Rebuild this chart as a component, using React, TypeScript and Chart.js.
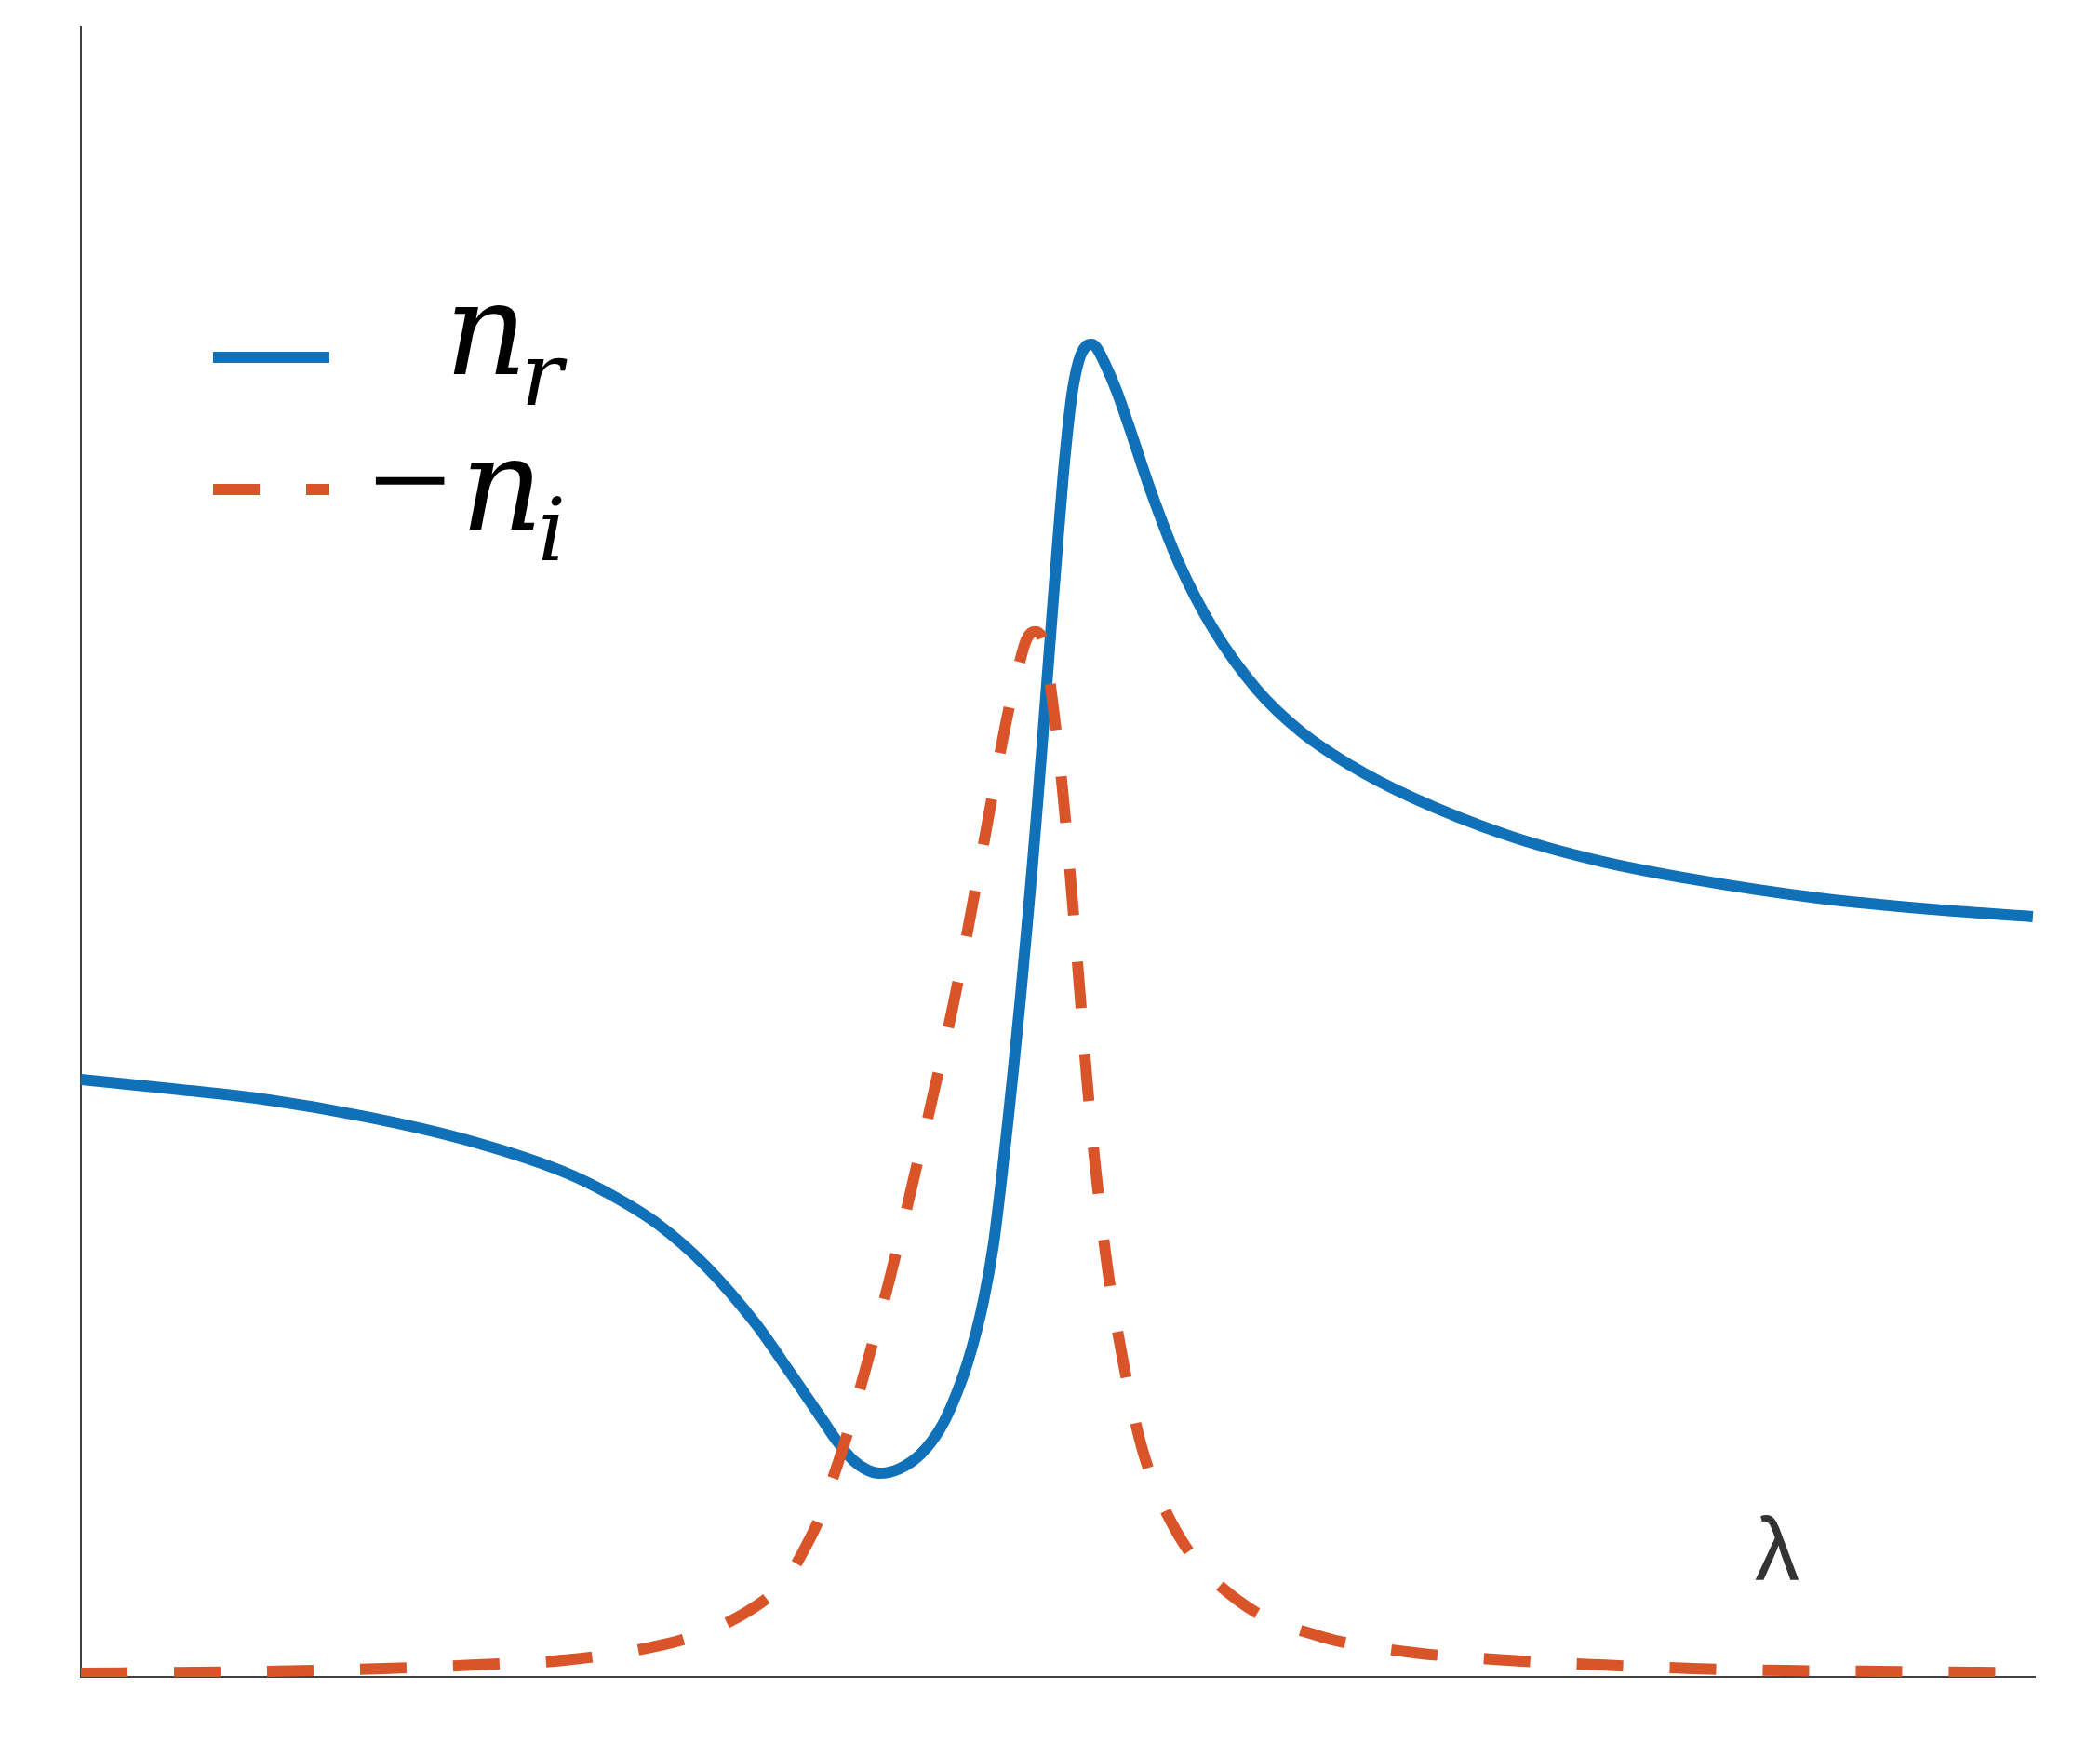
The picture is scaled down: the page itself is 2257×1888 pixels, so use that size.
import React, { useEffect, useRef } from "react";
import { Chart, registerables } from "chart.js";

Chart.register(...registerables);

// wavelength axis (arbitrary units) and the two curves
const nrX = [0, 4.67, 9.62, 14.62, 19.57, 24.57, 27.05, 29.57, 32.05, 34.52, 36.33, 37.9, 38.71, 39.52, 40.29, 40.86, 41.9, 43.0, 43.95, 44.57, 45.38, 46.19, 46.71, 47.14, 47.44, 47.76, 48.08, 48.4, 48.71, 48.95, 49.19, 49.43, 49.67, 49.99, 50.27, 50.48, 50.71, 50.9, 51.14, 51.43, 51.71, 51.95, 52.43, 53.0, 53.62, 54.76, 56.19, 57.95, 60.19, 62.43, 64.95, 68.14, 72.95, 77.71, 82.52, 88.9, 95.29, 99.9];
const nrY = [36.21, 35.65, 34.97, 33.95, 32.6, 30.68, 29.27, 27.41, 24.82, 21.43, 18.39, 15.68, 14.27, 13.14, 12.52, 12.35, 12.63, 13.54, 15.0, 16.47, 19.06, 22.79, 26.28, 30.46, 33.67, 37.28, 41.12, 45.23, 49.41, 52.85, 56.46, 60.18, 63.9, 68.75, 72.81, 75.35, 77.67, 78.96, 80.03, 80.65, 80.77, 80.6, 79.53, 77.95, 75.86, 71.86, 67.51, 63.51, 59.84, 57.3, 55.27, 53.3, 51.04, 49.46, 48.34, 47.21, 46.47, 46.08];

const niX = [0, 5.9, 10.67, 15.48, 20.24, 24.95, 29.67, 32.05, 34.1, 35.62, 36.33, 37.14, 37.76, 38.38, 39.19, 40.14, 41.43, 42.57, 43.62, 44.67, 45.62, 46.43, 47.29, 48.0, 48.38, 48.81, 49.19, 49.76, 50.29, 50.71, 51.1, 51.48, 51.95, 52.52, 53.24, 54.29, 56.1, 59.24, 63.52, 68.24, 73.0, 77.76, 82.52, 87.29, 92.05, 96.81, 99.9];
const niY = [0.23, 0.28, 0.37, 0.51, 0.73, 1.04, 1.92, 2.76, 3.95, 5.3, 6.32, 8.01, 9.53, 11.68, 14.61, 18.61, 24.31, 29.95, 35.31, 40.89, 46.76, 52.0, 57.53, 61.3, 62.85, 63.35, 63.0, 58.77, 53.13, 47.49, 41.85, 36.27, 30.57, 24.93, 19.74, 13.93, 8.74, 4.62, 2.43, 1.47, 1.02, 0.73, 0.51, 0.39, 0.34, 0.28, 0.25];

const seriesLabels = ["n_r", "-n_i"];
const axisLabel = "λ";

const BLUE = "#1071B8";
const ORANGE = "#D95428";
const AXIS = "#404040";

const legendPlugin = {
  id: "mathLegend",
  afterDraw(chart: any) {
    const ctx = chart.ctx as CanvasRenderingContext2D;
    ctx.save();
    // legend line samples
    ctx.lineCap = "butt";
    ctx.lineWidth = 12;
    ctx.strokeStyle = BLUE;
    ctx.beginPath();
    ctx.moveTo(229, 384);
    ctx.lineTo(354, 384);
    ctx.stroke();
    ctx.strokeStyle = ORANGE;
    ctx.setLineDash([50, 50]);
    ctx.beginPath();
    ctx.moveTo(229, 526);
    ctx.lineTo(354, 526);
    ctx.stroke();
    ctx.setLineDash([]);

    ctx.fillStyle = "#000";
    ctx.textAlign = "left";
    ctx.textBaseline = "alphabetic";
    const big = "italic 138px 'DejaVu Serif', serif";
    const small = "italic 94px 'DejaVu Serif', serif";
    // n_r
    ctx.font = big;
    ctx.fillText("n", 478, 402);
    ctx.font = small;
    ctx.fillText("r", 560, 435);
    // −n_i
    ctx.font = "158px 'Liberation Serif', serif";
    ctx.fillText("\u2212", 396, 569);
    ctx.font = big;
    ctx.fillText("n", 495, 569);
    ctx.font = small;
    ctx.fillText("i", 578, 602);

    // axis symbol
    ctx.fillStyle = "#333";
    ctx.font = "96px 'Liberation Sans', sans-serif";
    ctx.fillText(axisLabel, 1886, 1698);
    ctx.restore();
  },
};

export default function App() {
  const ref = useRef<HTMLCanvasElement>(null);
  useEffect(() => {
    const canvas = ref.current;
    if (!canvas) return;
    const chart = new Chart(canvas, {
      type: "line",
      data: {
        datasets: [
          {
            label: seriesLabels[0],
            data: nrX.map((x, i) => ({ x, y: nrY[i] })),
            borderColor: BLUE,
            borderWidth: 12,
            pointRadius: 0,
            cubicInterpolationMode: "monotone",
            fill: false,
            order: 2,
            borderCapStyle: "butt",
          },
          {
            label: seriesLabels[1],
            data: niX.map((x, i) => ({ x, y: niY[i] })),
            borderColor: ORANGE,
            borderWidth: 12,
            borderDash: [50, 50],
            pointRadius: 0,
            cubicInterpolationMode: "monotone",
            fill: false,
            order: 1,
            borderCapStyle: "butt",
          },
        ],
      },
      options: {
        responsive: false,
        animation: false,
        devicePixelRatio: 1,
        layout: { padding: { left: 87, right: 70, top: 29, bottom: 86 } },
        plugins: { legend: { display: false }, tooltip: { enabled: false } },
        elements: { line: { clip: false } as any },
        scales: {
          x: {
            type: "linear",
            min: 0,
            max: 100,
            grid: { display: false, drawTicks: false },
            ticks: { display: false },
            border: { display: true, color: AXIS, width: 2 },
          },
          y: {
            type: "linear",
            min: 0,
            max: 100,
            grid: { display: false, drawTicks: false },
            ticks: { display: false },
            border: { display: true, color: AXIS, width: 2 },
          },
        },
      },
      plugins: [legendPlugin],
    });
    return () => chart.destroy();
  }, []);
  return (
    <div style={{ position: "fixed", left: 0, top: 0, width: 2257, height: 1888, background: "#fff" }}>
      <canvas ref={ref} width={2257} height={1888} style={{ width: 2257, height: 1888 }} />
    </div>
  );
}
